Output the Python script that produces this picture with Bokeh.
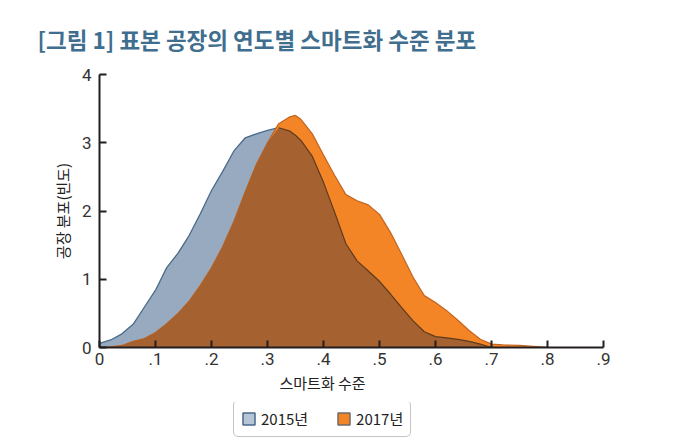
import numpy as np
from bokeh.plotting import figure
from bokeh.layouts import column
from bokeh.models import FixedTicker, Legend, LegendItem, Title
from bokeh.embed import file_html
from bokeh.resources import INLINE

# ---- data ----
levels = [0.00, 0.02, 0.04, 0.06, 0.08, 0.10, 0.12, 0.14, 0.16, 0.18,
          0.20, 0.22, 0.24, 0.26, 0.28, 0.30, 0.32, 0.34, 0.35, 0.36,
          0.38, 0.40, 0.42, 0.44, 0.46, 0.48, 0.50, 0.52, 0.54, 0.56,
          0.58, 0.60, 0.62, 0.64, 0.66, 0.68, 0.70, 0.72, 0.75, 0.78, 0.80]
dens_2015 = [0.06, 0.11, 0.20, 0.34, 0.59, 0.84, 1.17, 1.38, 1.64, 1.96,
             2.30, 2.58, 2.88, 3.07, 3.13, 3.18, 3.22, 3.17, 3.11, 3.03,
             2.80, 2.42, 1.98, 1.52, 1.27, 1.12, 0.97, 0.78, 0.58, 0.39,
             0.23, 0.16, 0.14, 0.12, 0.09, 0.05, 0.00, 0.00, 0.00, 0.00, 0.00]
dens_2017 = [0.00, 0.01, 0.03, 0.09, 0.13, 0.22, 0.35, 0.50, 0.68, 0.91,
             1.17, 1.48, 1.85, 2.28, 2.68, 3.00, 3.28, 3.38, 3.40, 3.34,
             3.13, 2.82, 2.52, 2.24, 2.15, 2.09, 1.95, 1.68, 1.36, 1.03,
             0.76, 0.66, 0.54, 0.40, 0.25, 0.12, 0.05, 0.04, 0.03, 0.015, 0.00]
series_names = ["2015년", "2017년"]
x_ticks = [0, 0.1, 0.2, 0.3, 0.4, 0.5, 0.6, 0.7, 0.8, 0.9]
x_tick_labels = ["0", ".1", ".2", ".3", ".4", ".5", ".6", ".7", ".8", ".9"]
y_ticks = [0, 1, 2, 3, 4]

title_text = "[그림 1] 표본 공장의 연도별 스마트화 수준 분포"
x_title = "스마트화 수준"
y_title = "공장 분포(빈도)"

KR = "Noto Sans CJK KR"
BLUE_FILL = "#98AABF"
BLUE_LINE = "#4A6A89"
ORANGE_FILL = "#F48527"
ORANGE_LINE = "#C2641F"
BROWN_FILL = "#A5612F"
BROWN_LINE = "#5E3B1E"
AXIS = "#231F20"

x = np.array(levels)
b = np.array(dens_2015)
o = np.array(dens_2017)
ov = np.minimum(b, o)


def closed(xv, yv):
    xs = list(xv) + [xv[-1], xv[0]]
    ys = list(yv) + [0, 0]
    return xs, ys


p = figure(width=650, height=402, x_range=(0, 0.9), y_range=(0, 4),
           output_backend="svg", toolbar_location=None,
           min_border_left=99, min_border_right=47, min_border_top=73,
           min_border_bottom=55)
p.outline_line_color = None
p.grid.visible = False
p.background_fill_color = "white"

bx, by = closed(x, b)
p.patch(bx, by, fill_color=BLUE_FILL, line_color=BLUE_LINE, line_width=1.3)
ox, oy = closed(x, o)
p.patch(ox, oy, fill_color=ORANGE_FILL, line_color=ORANGE_LINE, line_width=1.2)
vx, vy = closed(x, ov)
p.patch(vx, vy, fill_color=BROWN_FILL, line_color=None)
# blue curve where it lies under the 2017 curve
mask = (b <= o) & (x > 0.25)
p.line(x[mask], b[mask], line_color=BROWN_LINE, line_width=1.2)

# axes
for ax in (p.xaxis[0], p.yaxis[0]):
    ax.axis_line_color = AXIS
    ax.axis_line_width = 2
    ax.major_tick_line_color = AXIS
    ax.major_tick_line_width = 2
    ax.major_tick_in = 7
    ax.major_tick_out = 0
    ax.minor_tick_line_color = None
    ax.major_label_text_font = "Roboto"
    ax.major_label_text_font_size = "17px"
    ax.major_label_text_color = "#333333"

p.xaxis.ticker = FixedTicker(ticks=x_ticks)
p.xaxis.major_label_overrides = {t: s for t, s in zip(x_ticks, x_tick_labels)}
p.xaxis.major_label_standoff = 5
p.yaxis.ticker = FixedTicker(ticks=y_ticks)
p.yaxis.major_label_standoff = 8
p.yaxis.axis_label = y_title
p.yaxis.axis_label_text_font = KR
p.yaxis.axis_label_text_font_style = "normal"
p.yaxis.axis_label_text_font_size = "15px"
p.yaxis.axis_label_text_color = "#222222"
p.yaxis.axis_label_standoff = 6

# x axis title (offset from the centre, as in the reference)
xt = Title(text=x_title, align="left", offset=180, standoff=4,
           text_font=KR, text_font_size="15px", text_font_style="normal",
           text_color="#222222")
p.add_layout(xt, "below")

# title
p.title.text = title_text
p.title.text_font = KR
p.title.text_font_style = "bold"
p.title.text_font_size = "22.5px"
p.title.text_color = "#3F6E8E"
p.title.align = "left"
p.title.offset = -62
p.title.standoff = 40

# ---- legend strip (its swatch glyphs lie outside the strip's visible range) ----
q = figure(width=650, height=40, x_range=(0, 1), y_range=(10, 11),
           output_backend="svg", toolbar_location=None,
           x_axis_location=None, y_axis_location=None,
           min_border_left=99, min_border_right=47, min_border_top=0,
           min_border_bottom=0)
q.outline_line_color = None
q.grid.visible = False
l15 = q.patch(bx, by, fill_color="#B7C6D6", line_color=BLUE_LINE, line_width=1.5)
l17 = q.patch(ox, oy, fill_color=ORANGE_FILL, line_color="#6E6A6A", line_width=1.5)
legend = Legend(items=[LegendItem(label=series_names[0], renderers=[l15]),
                       LegendItem(label=series_names[1], renderers=[l17])],
                orientation="horizontal", location=(134, 5))
legend.border_line_color = "#8A8A8A"
legend.border_line_width = 1.5
legend.border_radius = 5
legend.padding = 7
legend.margin = 0
legend.spacing = 28
legend.glyph_width = 15
legend.glyph_height = 15
legend.label_text_font = KR
legend.label_text_font_size = "15px"
legend.label_text_color = "#222222"
legend.label_standoff = 5
q.add_layout(legend)

open("out.html", "w").write(file_html(column(p, q, spacing=0), INLINE))
